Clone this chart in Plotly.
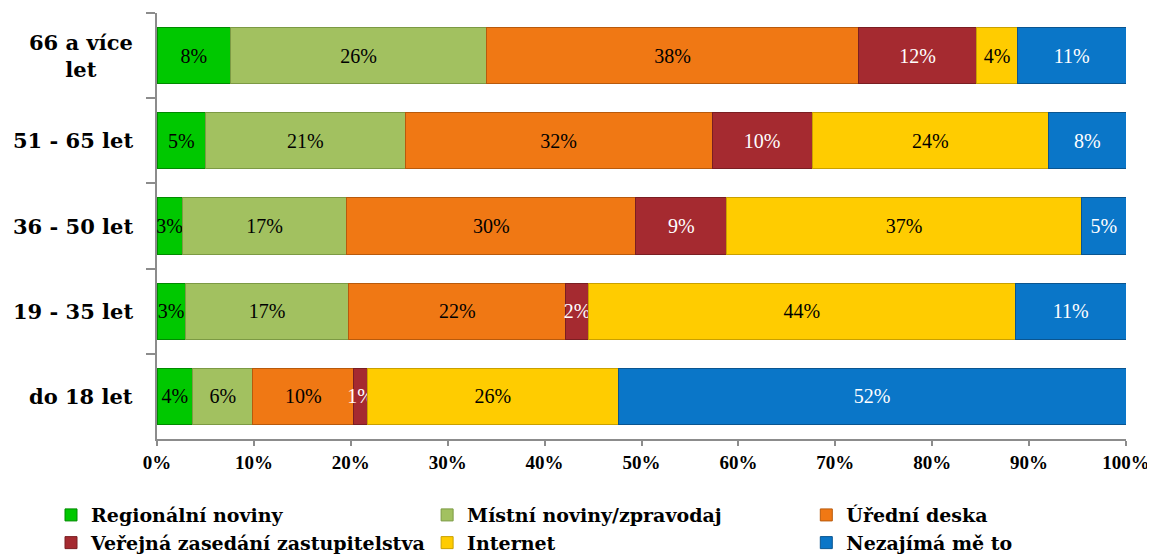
import plotly.graph_objects as go

categories = ["66 a více<br>let", "51 - 65 let", "36 - 50 let", "19 - 35 let", "do 18 let"]

series_names = ["Regionální noviny", "Místní noviny/zpravodaj", "Úřední deska",
                "Veřejná zasedání zastupitelstva", "Internet", "Nezajímá mě to"]

regionalni = [7.6, 5.0, 2.6, 2.9, 3.7]
mistni = [26.4, 20.6, 17.0, 16.9, 6.2]
uredni = [38.4, 31.7, 29.8, 22.4, 10.4]
zasedani = [12.2, 10.3, 9.4, 2.3, 1.4]
internet = [4.2, 24.4, 36.6, 44.1, 25.9]
nezajima = [11.2, 8.0, 4.6, 11.4, 52.4]

x_ticks = [0, 10, 20, 30, 40, 50, 60, 70, 80, 90, 100]

series_values = [regionalni, mistni, uredni, zasedani, internet, nezajima]
colors = ["#00C800", "#A2C160", "#F07814", "#A52A30", "#FFCC00", "#0A76C8"]
line_colors = ["#008A00", "#7C9A44", "#B85A0C", "#7A1E22", "#C9A000", "#0A5590"]
text_colors = ["black", "black", "black", "white", "black", "white"]
legend_ids = ["legend", "legend2", "legend3", "legend", "legend2", "legend3"]

fig = go.Figure()
for i, (name, vals, c, lc, tc, lg) in enumerate(zip(series_names, series_values, colors,
                                                     line_colors, text_colors, legend_ids)):
    fig.add_trace(go.Bar(
        y=categories, x=vals, name=name, orientation="h",
        marker=dict(color=c, line=dict(color=lc, width=1)),
        text=[f"{round(v)}%" for v in vals],
        textposition="inside", insidetextanchor="middle", textangle=0,
        textfont=dict(family="Liberation Serif", size=20, color=tc),
        hoverinfo="skip", legend=lg, legendgroup=f"g{i}",
    ))

for cat in categories:
    fig.add_annotation(
        x=0, xref="paper", y=cat, yref="y", xanchor="right", yanchor="middle",
        xshift=-22, text=cat, showarrow=False, align="center",
        font=dict(family="DejaVu Serif", size=21, color="black", weight="bold"),
    )

legend_font = dict(family="DejaVu Serif", size=19, color="black", weight="bold")
legend_common = dict(
    orientation="v", xref="container", yref="container", xanchor="left",
    yanchor="top", y=0.111, traceorder="normal", font=legend_font,
    itemclick=False, itemdoubleclick=False, tracegroupgap=12, bgcolor="rgba(0,0,0,0)",
)

fig.update_layout(
    width=1147, height=549,
    barmode="stack", bargap=0.34,
    plot_bgcolor="white", paper_bgcolor="white",
    margin=dict(l=149, r=29, t=5, b=118, autoexpand=False),
    uniformtext=dict(minsize=20, mode="show"),
    showlegend=True,
    legend=dict(x=0.0375, **legend_common),
    legend2=dict(x=0.3654, **legend_common),
    legend3=dict(x=0.696, **legend_common),
    xaxis=dict(
        range=[0, 100], tickvals=x_ticks, ticktext=[f"{t}%" for t in x_ticks],
        showgrid=False, zeroline=False, showline=True, linecolor="#8C8C8C", linewidth=2,
        ticks="outside", ticklen=5, tickcolor="#8C8C8C", tickwidth=2,
        tickfont=dict(family="Liberation Serif", size=19, color="black", weight="bold"),
        fixedrange=True,
    ),
    yaxis=dict(
        autorange="reversed", showgrid=False, showline=True, linecolor="#8C8C8C", linewidth=2,
        ticks="outside", ticklen=9, tickcolor="#8C8C8C", tickwidth=2, tickson="boundaries",
        showticklabels=False, fixedrange=True,
    ),
)

fig.write_html("out.html")
